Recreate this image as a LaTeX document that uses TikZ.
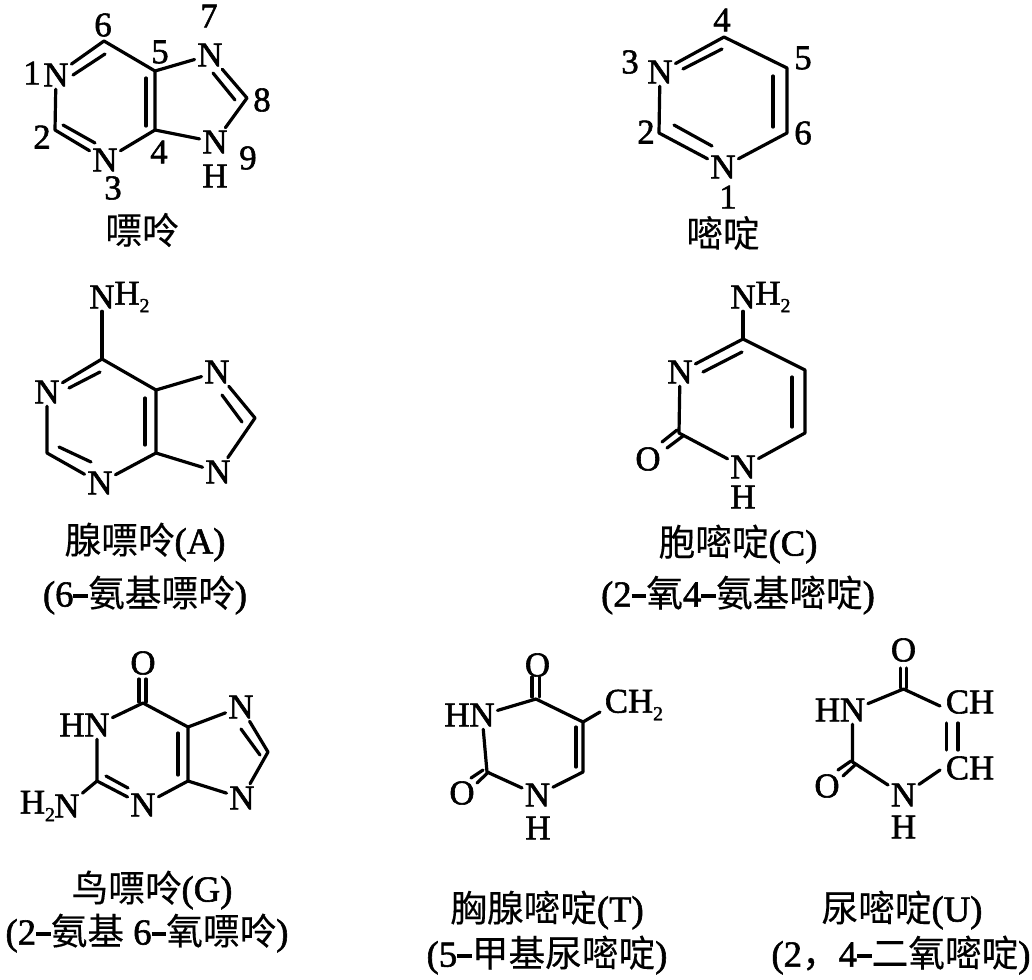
\documentclass[tikz,border=0pt]{standalone}
\usepackage{fontspec}
\setmainfont{Liberation Serif}[FakeBold=1.6]
\newfontfamily\cjk{Noto Sans CJK SC}[FakeBold=0.25]
\newcommand{\cj}[1]{{\cjk #1}}
\newcommand{\subtwo}{\raisebox{-0.22em}{\fontsize{15}{15}\selectfont 2}}
\newcommand{\dash}{\rule[0.24em]{0.4em}{0.1em}}
\tikzset{
  bond/.style={line width=2.4pt,line cap=round,line join=round,black},
  atom/.style={font=\fontsize{26}{26}\selectfont,inner sep=0pt,outer sep=2.2pt,text=black},
  lbl/.style={font=\fontsize{26}{26}\selectfont,inner sep=0pt,text=black},
  captxt/.style={font=\fontsize{27.5}{27.5}\selectfont,inner sep=0pt,text=black}
}
% named inner line of a double bond
\newcommand{\inb}[3]{\coordinate (#1s) at (#2);\coordinate (#1e) at (#3);\draw[bond] (#1s) -- (#1e);}
\begin{document}
\begin{tikzpicture}[x=0.75pt,y=-0.75pt]
\useasboundingbox (0,0) rectangle (1032,979);
%%% purine
\node[atom] (pN1) at (56,75) {N};
\node[atom] (pN3) at (105,160) {N};
\node[atom] (pN7) at (210,55) {N};
\node[atom] (pN9) at (215,142) {N};
\node[atom] (pH9) at (215,176) {H};
\coordinate (pC6) at (104,41);
\coordinate (pC2) at (55,130);
\coordinate (pC4) at (155,130);
\coordinate (pC5) at (155,71);
\coordinate (pC8) at (247,98);
\draw[bond] (pN1) -- (pC6) -- (pC5) -- (pC4) -- (pN3) -- (pC2) -- (pN1);
\draw[bond] (pC5) -- (pN7) -- (pC8) -- (pN9) -- (pC4);
\inb{pa}{73,75}{105,54}
\inb{pb}{63,125}{95,143}
\inb{pc}{146,78}{146,126}
\inb{pd}{213,73}{235,100}
\node[lbl] (l1) at (32,73) {1};
\node[lbl] (l2) at (42,137) {2};
\node[lbl] (l3) at (113,188) {3};
\node[lbl] (l4) at (159,152) {4};
\node[lbl] (l5) at (160,52) {5};
\node[lbl] (l6) at (103,25) {6};
\node[lbl] (l7) at (209,16) {7};
\node[lbl] (l8) at (262,100) {8};
\node[lbl] (l9) at (248,158) {9};
\node[captxt] (cp) at (142,230) {\cj{嘌呤}};
%%% pyrimidine
\node[atom] (yN1) at (723,167) {N};
\node[atom] (yN3) at (660,72) {N};
\coordinate (yC4) at (724,37);
\coordinate (yC5) at (787,68);
\coordinate (yC6) at (787,133);
\coordinate (yC2) at (659,133);
\draw[bond] (yN3) -- (yC4) -- (yC5) -- (yC6) -- (yN1) -- (yC2) -- (yN3);
\inb{ya}{683,69}{722,49}
\inb{yb}{773,76}{773,127}
\inb{yc}{674,125}{712,146}
\node[lbl] (m1) at (728,197) {1};
\node[lbl] (m2) at (646,132) {2};
\node[lbl] (m3) at (630,62) {3};
\node[lbl] (m4) at (722,20) {4};
\node[lbl] (m5) at (803,58) {5};
\node[lbl] (m6) at (803,133) {6};
\node[captxt] (cy) at (723,233) {\cj{嘧啶}};
%%% adenine
\node[atom] (aNH) at (102,297) {N};
\node[atom,anchor=west,outer sep=0pt] (aH2) at (114.5,297) {H\subtwo};
\node[atom] (aN1) at (47,392) {N};
\node[atom] (aN3) at (100,483) {N};
\node[atom] (aN7) at (217,372) {N};
\node[atom] (aN9) at (218,472) {N};
\coordinate (aC6) at (102,359);
\coordinate (aC2) at (47,453);
\coordinate (aC4) at (156,453);
\coordinate (aC5) at (156,390);
\coordinate (aC8) at (255,418);
\draw[bond] (aNH) -- (aC6);
\draw[bond] (aN1) -- (aC6) -- (aC5) -- (aC4) -- (aN3) -- (aC2) -- (aN1);
\draw[bond] (aC5) -- (aN7) -- (aC8) -- (aN9) -- (aC4);
\inb{aa}{69,388}{100,372}
\inb{ab}{59,447}{91,462}
\inb{ac}{145,398}{145,445}
\inb{ad}{222,395}{242,422}
\node[captxt] (ca1) at (145,542) {\cj{腺嘌呤}(A)};
\node[captxt] (ca2) at (145,595) {(6\dash\cj{氨基嘌呤})};
%%% cytosine
\node[atom] (cNH) at (743,297) {N};
\node[atom,anchor=west,outer sep=0pt] (cH2) at (755.5,297) {H\subtwo};
\node[atom] (cN3) at (680,372) {N};
\node[atom] (cN1) at (743,467) {N};
\node[atom] (cH1) at (743,497) {H};
\node[atom] (cO) at (648,459) {O};
\coordinate (cC4) at (743,339);
\coordinate (cC5) at (805,370);
\coordinate (cC6) at (805,433);
\coordinate (cC2) at (679,433);
\draw[bond] (cNH) -- (cC4);
\draw[bond] (cN3) -- (cC4) -- (cC5) -- (cC6) -- (cN1) -- (cC2) -- (cN3);
\inb{ca}{703,372}{742,352}
\inb{cb}{792,377}{792,427}
\inb{cc}{677,430}{662,442}
\inb{cd}{683,436}{667,448}
\node[captxt] (cc1) at (738,544) {\cj{胞嘧啶}(C)};
\node[captxt] (cc2) at (738,595) {(2\dash\cj{氧}4\dash\cj{氨基嘧啶})};
%%% guanine
\node[atom] (gO) at (143,663) {O};
\node[atom] (gN1) at (97,725) {N};
\node[atom] (gH1) at (72,725) {H};
\node[atom] (gN2) at (67,806) {N};
\node[atom,anchor=east,outer sep=0pt] (gH2) at (55,806) {H\subtwo};
\node[atom] (gN3) at (143,805) {N};
\node[atom] (gN7) at (241,707) {N};
\node[atom] (gN9) at (242,798) {N};
\coordinate (gC6) at (143,703);
\coordinate (gC2) at (97,781);
\coordinate (gC4) at (188,781);
\coordinate (gC5) at (188,727);
\coordinate (gC8) at (268,752);
\draw[bond] (gN1) -- (gC6) -- (gC5) -- (gC4) -- (gN3) -- (gC2) -- (gN1);
\draw[bond] (gC5) -- (gN7) -- (gC8) -- (gN9) -- (gC4);
\draw[bond] (gC2) -- (gN2);
\inb{ga}{139,679}{139,702}
\inb{gb}{146,679}{146,702}
\inb{gc}{106,776}{128,788}
\inb{gd}{178,733}{178,775}
\inb{ge}{241,729}{260,755}
\node[captxt] (cg1) at (152,890) {\cj{鸟嘌呤}(G)};
\node[captxt] (cg2) at (147,933) {(2\dash\cj{氨基} 6\dash\cj{氧嘌呤})};
%%% thymine
\node[atom] (tO4) at (537.5,665) {O};
\node[atom] (tN3) at (482,715) {N};
\node[atom] (tH3) at (457,715) {H};
\node[atom] (tO2) at (462,793) {O};
\node[atom] (tN1) at (537.5,795) {N};
\node[atom] (tH1) at (538,828) {H};
\node[atom] (tCH) at (634,705) {CH\subtwo};
\coordinate (tC4) at (536,699);
\coordinate (tC5) at (583,722);
\coordinate (tC6) at (583,772);
\coordinate (tC2) at (487,772);
\coordinate (tCHe) at (600,712);
\draw[bond] (tN3) -- (tC4) -- (tC5) -- (tC6) -- (tN1) -- (tC2) -- (tN3);
\draw[bond] (tC5) -- (tCHe);
\inb{ta}{532,677}{532,697}
\inb{tb}{539.5,677}{539.5,697}
\inb{tc}{576,727}{576,767}
\inb{td}{488.5,772}{477,783}
\inb{te}{483,770}{471,778}
\node[captxt] (ct1) at (547,910) {\cj{胸腺嘧啶}(T)};
\node[captxt] (ct2) at (547,955) {(5\dash\cj{甲基尿嘧啶})};
%%% uracil
\node[atom] (uO4) at (903.5,650) {O};
\node[atom] (uN3) at (852.5,710) {N};
\node[atom] (uH3) at (827.5,710) {H};
\node[atom] (uO2) at (827,786) {O};
\node[atom] (uN1) at (903.5,795) {N};
\node[atom] (uH1) at (903.5,827) {H};
\node[atom] (uCa) at (970,702) {CH};
\node[atom] (uCb) at (970,768) {CH};
\coordinate (uC4) at (903.5,689);
\coordinate (uC2) at (852.5,762);
\coordinate (uCae) at (940,706);
\coordinate (uCbe) at (940,770);
\draw[bond] (uN3) -- (uC4) -- (uCae);
\draw[bond] (uCbe) -- (uN1) -- (uC2) -- (uN3);
\inb{ua}{900.5,668}{900.5,688}
\inb{ub}{906.5,668}{906.5,688}
\inb{uc}{946.5,723}{946.5,750}
\inb{ud}{958,723}{958,750}
\inb{ue}{856,764}{843,776}
\inb{uf}{851,761}{838,770}
\node[captxt] (cu1) at (902,910) {\cj{尿嘧啶}(U)};
\node[captxt] (cu2) at (901,955) {(2\cj{，}4\dash\cj{二氧嘧啶})};
\end{tikzpicture}
\end{document}
